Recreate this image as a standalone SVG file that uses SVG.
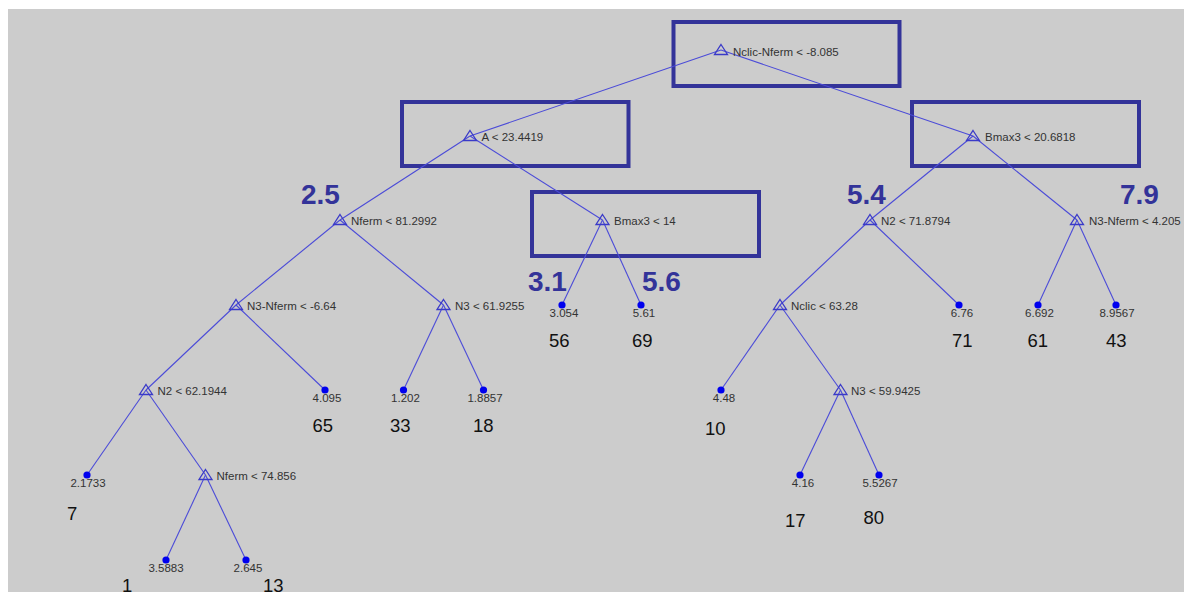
<svg xmlns="http://www.w3.org/2000/svg" width="1184" height="592" viewBox="0 0 1184 592">
<style>
.bg{fill:#cccccc}
.box{fill:none;stroke:#333399;stroke-width:4}
.edge{stroke:#4b4bd8;stroke-width:1.1;fill:none}
.tri{fill:none;stroke:#3a3ac8;stroke-width:1.3}
.dot{fill:#0000ee}
.lbl{font-family:"Liberation Sans",Arial,sans-serif;font-size:11.5px;fill:#333333}
.val{font-family:"Liberation Sans",Arial,sans-serif;font-size:11.5px;fill:#333333;text-anchor:middle}
.cnt{font-family:"Liberation Sans",Arial,sans-serif;font-size:18.5px;fill:#111111}
.big{font-family:"Liberation Sans",Arial,sans-serif;font-size:28px;font-weight:bold;fill:#333399}
</style>
<defs>
<path id="t" d="M0,-5.5 L6.5,4.5 L-6.5,4.5 Z"/>
<circle id="d" r="3.6"/>
</defs>
<rect width="1184" height="592" fill="#ffffff"/>
<rect class="bg" x="8" y="9" width="1176" height="583"/>

<g id="boxes">
<rect class="box" x="673.5" y="22" width="226" height="64"/>
<rect class="box" x="402" y="102" width="226.5" height="64"/>
<rect class="box" x="912" y="102" width="227" height="64"/>
<rect class="box" x="532" y="192" width="227" height="64"/>
</g>

<g id="connectors">
<line class="edge" x1="721" y1="50" x2="470" y2="136"/>
<line class="edge" x1="721" y1="50" x2="973" y2="136"/>
<line class="edge" x1="470" y1="136" x2="340" y2="220"/>
<line class="edge" x1="470" y1="136" x2="602.5" y2="220"/>
<line class="edge" x1="973" y1="136" x2="870" y2="220"/>
<line class="edge" x1="973" y1="136" x2="1077" y2="220"/>
<line class="edge" x1="340" y1="220" x2="236" y2="305"/>
<line class="edge" x1="340" y1="220" x2="443.5" y2="305"/>
<line class="edge" x1="602.5" y1="220" x2="562" y2="305"/>
<line class="edge" x1="602.5" y1="220" x2="641" y2="305"/>
<line class="edge" x1="870" y1="220" x2="780" y2="305"/>
<line class="edge" x1="870" y1="220" x2="959" y2="305"/>
<line class="edge" x1="1077" y1="220" x2="1038" y2="305"/>
<line class="edge" x1="1077" y1="220" x2="1116" y2="305"/>
<line class="edge" x1="236" y1="305" x2="146" y2="390"/>
<line class="edge" x1="236" y1="305" x2="325" y2="390"/>
<line class="edge" x1="443.5" y1="305" x2="403.5" y2="390"/>
<line class="edge" x1="443.5" y1="305" x2="483.5" y2="390"/>
<line class="edge" x1="780" y1="305" x2="721" y2="390"/>
<line class="edge" x1="780" y1="305" x2="840.5" y2="390"/>
<line class="edge" x1="146" y1="390" x2="87" y2="475"/>
<line class="edge" x1="146" y1="390" x2="205.5" y2="475"/>
<line class="edge" x1="840.5" y1="390" x2="800" y2="475"/>
<line class="edge" x1="840.5" y1="390" x2="879" y2="475"/>
<line class="edge" x1="205.5" y1="475" x2="166" y2="560"/>
<line class="edge" x1="205.5" y1="475" x2="246" y2="560"/>
</g>

<g id="n-root"><use href="#t" class="tri" x="721" y="50"/><text class="lbl" x="733" y="55.5">Nclic-Nferm &lt; -8.085</text></g>
<g id="n-A"><use href="#t" class="tri" x="470" y="136"/><text class="lbl" x="481.5" y="141">A &lt; 23.4419</text></g>
<g id="n-Bmax3a"><use href="#t" class="tri" x="973" y="136"/><text class="lbl" x="985" y="141">Bmax3 &lt; 20.6818</text></g>
<g id="n-Nferm1"><use href="#t" class="tri" x="340" y="220"/><text class="lbl" x="351" y="224.5">Nferm &lt; 81.2992</text></g>
<g id="n-Bmax3b"><use href="#t" class="tri" x="602.5" y="220"/><text class="lbl" x="614" y="224.5">Bmax3 &lt; 14</text></g>
<g id="n-N2a"><use href="#t" class="tri" x="870" y="220"/><text class="lbl" x="881" y="224.5">N2 &lt; 71.8794</text></g>
<g id="n-N3Nferm1"><use href="#t" class="tri" x="1077" y="220"/><text class="lbl" x="1089" y="224.5">N3-Nferm &lt; 4.205</text></g>
<g id="n-N3Nferm2"><use href="#t" class="tri" x="236" y="305"/><text class="lbl" x="247" y="309.5">N3-Nferm &lt; -6.64</text></g>
<g id="n-N3a"><use href="#t" class="tri" x="443.5" y="305"/><text class="lbl" x="455" y="309.5">N3 &lt; 61.9255</text></g>
<g id="n-Nclic"><use href="#t" class="tri" x="780" y="305"/><text class="lbl" x="791" y="309.5">Nclic &lt; 63.28</text></g>
<g id="n-N2b"><use href="#t" class="tri" x="146" y="390"/><text class="lbl" x="157.5" y="394.5">N2 &lt; 62.1944</text></g>
<g id="n-N3b"><use href="#t" class="tri" x="840.5" y="390"/><text class="lbl" x="851" y="394.5">N3 &lt; 59.9425</text></g>
<g id="n-Nferm2"><use href="#t" class="tri" x="205.5" y="475"/><text class="lbl" x="216.5" y="479.5">Nferm &lt; 74.856</text></g>

<g id="l-3054"><use href="#d" class="dot" x="562" y="305"/><text class="val" x="564" y="317">3.054</text><text class="cnt" x="549" y="347">56</text></g>
<g id="l-561"><use href="#d" class="dot" x="641" y="305"/><text class="val" x="644" y="317">5.61</text><text class="cnt" x="632" y="347">69</text></g>
<g id="l-676"><use href="#d" class="dot" x="959" y="305"/><text class="val" x="962" y="317">6.76</text><text class="cnt" x="952" y="347">71</text></g>
<g id="l-6692"><use href="#d" class="dot" x="1038" y="305"/><text class="val" x="1039.5" y="317">6.692</text><text class="cnt" x="1027.5" y="347">61</text></g>
<g id="l-89567"><use href="#d" class="dot" x="1116" y="305"/><text class="val" x="1117" y="317">8.9567</text><text class="cnt" x="1106" y="347">43</text></g>
<g id="l-4095"><use href="#d" class="dot" x="325" y="390"/><text class="val" x="327" y="402">4.095</text><text class="cnt" x="312.5" y="432">65</text></g>
<g id="l-1202"><use href="#d" class="dot" x="403.5" y="390"/><text class="val" x="405.5" y="402">1.202</text><text class="cnt" x="390" y="432">33</text></g>
<g id="l-18857"><use href="#d" class="dot" x="483.5" y="390"/><text class="val" x="485" y="402">1.8857</text><text class="cnt" x="473" y="432">18</text></g>
<g id="l-448"><use href="#d" class="dot" x="721" y="390"/><text class="val" x="724" y="402">4.48</text><text class="cnt" x="705" y="435">10</text></g>
<g id="l-21733"><use href="#d" class="dot" x="87" y="475"/><text class="val" x="88" y="487">2.1733</text><text class="cnt" x="67" y="520">7</text></g>
<g id="l-416"><use href="#d" class="dot" x="800" y="475"/><text class="val" x="803" y="487">4.16</text><text class="cnt" x="785" y="527">17</text></g>
<g id="l-55267"><use href="#d" class="dot" x="879" y="475"/><text class="val" x="880" y="487">5.5267</text><text class="cnt" x="863.5" y="523.5">80</text></g>
<g id="l-35883"><use href="#d" class="dot" x="166" y="560"/><text class="val" x="166" y="572">3.5883</text><text class="cnt" x="122" y="591.5">1</text></g>
<g id="l-2645"><use href="#d" class="dot" x="246" y="560"/><text class="val" x="248" y="572">2.645</text><text class="cnt" x="263" y="591.5">13</text></g>

<g id="annotations">
<text class="big" x="301" y="204">2.5</text>
<text class="big" x="528" y="291">3.1</text>
<text class="big" x="642" y="291">5.6</text>
<text class="big" x="847" y="204">5.4</text>
<text class="big" x="1120" y="204">7.9</text>
</g>
</svg>
